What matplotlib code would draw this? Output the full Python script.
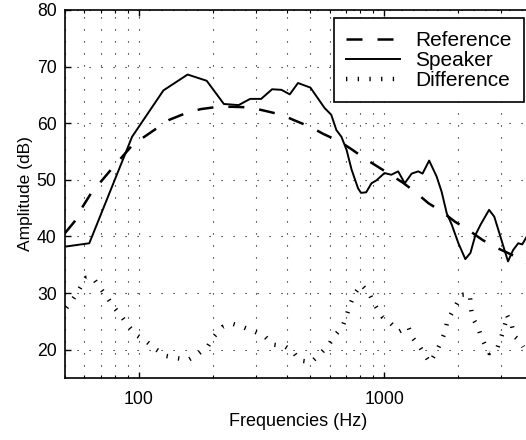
import matplotlib
matplotlib.use("Agg")
import matplotlib.pyplot as plt
from matplotlib.ticker import FixedLocator, NullFormatter

plt.rcParams['font.family'] = ['Liberation Sans', 'DejaVu Sans']

# Reference (dashed)
ref_f = [50, 54.6, 58.7, 63.8, 77, 94.4, 121, 133, 158, 179, 210, 242, 283, 326, 381, 431,
         503, 565, 657, 736, 844, 1035, 1191, 1333, 1511, 1713, 1943, 2178, 2510, 2807,
         3296, 3671, 3800]
ref_db = [40.6, 42.6, 45.1, 47.6, 51.8, 56.2, 59.4, 60.6, 61.9, 62.5, 62.9, 62.9, 62.8, 62.2,
          61.5, 60.5, 59.3, 58.1, 56.8, 55.4, 53.6, 51.2, 49.5, 47.9, 45.9, 44.4, 42.6, 41.3,
          39.4, 38.2, 36.8, 35.7, 35.4]

# Speaker (solid)
spk_f = [50, 62.8, 93.8, 125.9, 158, 189, 222, 255, 284, 315, 349, 381, 412, 445, 500,
         571, 608, 638, 669, 702, 736, 782, 804, 844, 887, 929, 1002, 1069, 1139, 1212,
         1293, 1376, 1432, 1524, 1634, 1713, 1797, 1883, 2005, 2140, 2245, 2354, 2470,
         2674, 2807, 2944, 3090, 3194, 3350, 3515, 3650, 3810]
spk_db = [38.2, 38.8, 57.6, 65.8, 68.6, 67.5, 63.4, 63.2, 64.3, 64.3, 66.0, 65.9, 65.1,
          67.1, 66.3, 62.7, 61.5, 58.8, 57.6, 55.3, 51.8, 48.5, 47.7, 47.8, 49.4, 49.9,
          51.2, 50.9, 51.5, 49.4, 51.1, 51.5, 51.1, 53.4, 50.6, 47.9, 44.1, 42.1, 38.8,
          36.0, 37.1, 40.3, 42.1, 44.7, 43.5, 40.6, 37.6, 35.6, 37.6, 38.8, 38.6, 40.0]

# Difference (dotted)
dif_f = [50.7, 54, 57.2, 60.9, 64.8, 69, 73.9, 78.7, 84.6, 90.6, 97.4, 107, 117, 129, 143,
         159, 175, 191, 203, 219, 240, 265, 296, 325, 352, 393, 424, 452, 504, 549, 595,
         628, 675, 701, 723, 758, 807, 867, 915, 983, 1060, 1149, 1251, 1304, 1396, 1463,
         1534, 1623, 1696, 1766, 1811, 1958, 2066, 2234, 2250, 2290, 2402, 2493, 2596,
         2678, 2870, 2942, 3010, 3133, 3155, 3305, 3387, 3573, 3686]
dif_db = [27.4, 29.0, 30.7, 32.7, 32.8, 31.1, 29.4, 27.6, 26.0, 24.2, 22.6, 21.5, 20.1,
          18.9, 18.5, 18.2, 19.3, 20.6, 22.4, 24.0, 24.6, 24.0, 23.2, 22.4, 20.9, 20.6,
          19.7, 18.1, 17.8, 19.3, 20.9, 22.5, 24.0, 25.9, 27.8, 29.9, 31.5, 30.0, 27.9,
          25.8, 24.7, 23.2, 24.1, 22.1, 20.5, 19.1, 17.7, 19.5, 21.2, 23.1, 25.2, 27.8,
          29.7, 29.8, 27.6, 25.6, 24.1, 22.1, 20.5, 19.4, 19.9, 21.3, 22.5, 25.0, 26.2,
          24.4, 22.4, 21.5, 20.5]

xticks_major = [100, 1000]
xtick_labels = ["100", "1000"]
xticks_minor = [50, 60, 70, 80, 90, 200, 300, 400, 500, 600, 700, 800, 900, 2000, 3000, 4000]
yticks = [20, 30, 40, 50, 60, 70, 80]

W, H = 526, 440
fig = plt.figure(figsize=(W / 100, H / 100), dpi=100)
ax = fig.add_axes([65 / W, (H - 378) / H, 467 / W, 368 / H])

ax.plot(ref_f, ref_db, color='black', lw=1.8, linestyle=(0, (6.4, 6.0)), label='Reference')
ax.plot(spk_f, spk_db, color='black', lw=1.4, label='Speaker')
ax.plot(dif_f, dif_db, color='black', lw=3.2, linestyle=(0, (0.3, 2.33)),
        dash_capstyle='butt', label='Difference')

ax.set_xscale('log')
ax.set_xlim(50, 4000)
ax.set_ylim(15, 80)
ax.xaxis.set_major_locator(FixedLocator(xticks_major))
ax.set_xticklabels(xtick_labels)
ax.xaxis.set_minor_locator(FixedLocator(xticks_minor))
ax.xaxis.set_minor_formatter(NullFormatter())
ax.set_yticks(yticks)

grid_style = (0, (1, 9.8))
ax.grid(which='both', axis='x', color='black', lw=0.8, linestyle=grid_style)
ax.grid(which='major', axis='y', color='black', lw=0.8, linestyle=grid_style)

for s in ax.spines.values():
    s.set_linewidth(1.2)
ax.tick_params(which='major', direction='in', length=4.5, width=1.0, top=True, right=True,
               labelsize=12.7)
ax.tick_params(axis='x', which='major', pad=9)
ax.tick_params(axis='y', which='major', pad=6)
ax.tick_params(which='minor', direction='in', length=2.5, width=0.8, top=True, right=True)

ax.set_xlabel('Frequencies (Hz)', fontsize=13, labelpad=4)
ax.set_ylabel('Amplitude (dB)', fontsize=12.5, labelpad=3)

leg = ax.legend(loc='upper right', bbox_to_anchor=(1.0, 1.0), fontsize=15,
                handlelength=2.6, handletextpad=0.7, borderaxespad=0.4, labelspacing=0.05,
                fancybox=False, framealpha=1, edgecolor='black', borderpad=0.6)
leg.get_frame().set_linewidth(1.2)

fig.savefig('out.png', dpi=100)
